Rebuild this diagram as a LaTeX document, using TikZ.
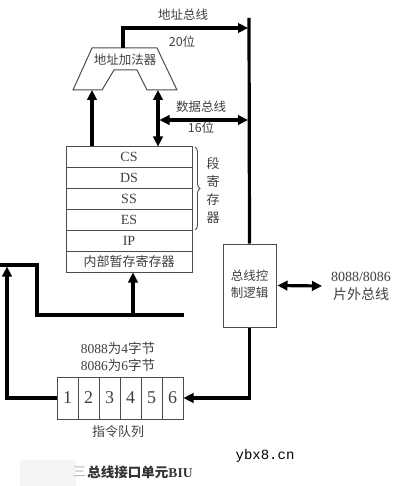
\documentclass[tikz,border=0pt]{standalone}
\usepackage{fontspec}
\setmainfont{Liberation Serif}
\newfontfamily\cjkf{Noto Sans CJK SC}
\newfontfamily\monof{Liberation Mono}
\usetikzlibrary{arrows.meta,decorations.pathreplacing}
\newcommand\zh[1]{{\cjkf #1}}
\begin{document}
\begin{tikzpicture}[x=1pt,y=-1pt,
  bus/.style={line width=3.2pt},
  tip/.style={-{Triangle[length=10pt,width=9.5pt]}},
  dtip/.style={{Triangle[length=10pt,width=9.5pt]}-{Triangle[length=10pt,width=9.5pt]}},
  thin/.style={draw=black!70,line width=1pt},
  lbl/.style={text=black!75,inner sep=0pt,font=\fontsize{12.5}{17}\selectfont\cjkf},
  reg/.style={thin,minimum width=126pt,minimum height=20.83pt,inner sep=0pt,text=black!75,font=\fontsize{14}{15}\selectfont},
  qcell/.style={thin,minimum width=21pt,minimum height=42pt,inner sep=0pt,text=black!75,font=\fontsize{18}{19}\selectfont},
]
\useasboundingbox (0,0) rectangle (412,486);
\fill[black!4] (20,460) rectangle (76,486);

% address adder
\draw[thin] (92,48) -- (157,48) -- (177,90) -- (147,90) -- (137,70) -- (114,70) -- (102,90) -- (73,90) -- cycle;
\node[lbl] (add) at (125,60) {地址加法器};
\coordinate (addT) at (123,48);
\coordinate (addL) at (92,90);
\coordinate (addR) at (158,90);

% bus line
\coordinate (bt) at (249,18);
\node[thin,minimum width=53pt,minimum height=83pt,inner sep=0pt] (bcl) at (249.5,285.5) {};
\node[lbl,align=center] (bcltxt) at (249.5,284) {总线控\\制逻辑};
\draw[bus] (bt) -- (bcl.north);

% address bus
\coordinate (ab) at (248,28);
\draw[bus,tip] (addT) -- (addT |- ab) -- (ab);
\node[lbl] (abl) at (183,15) {地址总线};
\node[lbl] (abw) at (182,42) {20\zh{位}};

% registers
\node[reg] (rcs) at (129,157.4) {CS};
\node[reg] (rds) at (129,178.3) {DS};
\node[reg] (rss) at (129,199.1) {SS};
\node[reg] (res) at (129,219.9) {ES};
\node[reg] (rip) at (129,240.8) {IP};
\node[reg,font=\fontsize{13}{15}\selectfont\cjkf] (rtmp) at (129,261.6) {内部暂存寄存器};
\draw[black!70,line width=0.9pt,decorate,decoration={brace,amplitude=5pt}] (195,147) -- (195,230);
\node[lbl,align=center,font=\fontsize{13}{18}\selectfont\cjkf] (seg) at (213,191) {段\\寄\\存\\器};

% adder arrows
\draw[bus,tip] (addL |- rcs.north) -- (addL);
\draw[bus,dtip] (addR) -- (addR |- rcs.north);
\coordinate (db0) at (159.5,120);
\coordinate (db1) at (248,120);
\draw[bus,dtip] (db0) -- (db1);
\node[lbl] (dbl) at (201,107) {数据总线};
\node[lbl] (dbw) at (201,128) {16\zh{位}};

% internal bus
\coordinate (h0) at (0,265);
\coordinate (h1) at (37,265);
\coordinate (h2) at (37,315);
\coordinate (h3) at (184,315);
\coordinate (hm) at (133,315);
\draw[bus] (h0) -- (h1) -- (h2) -- (h3);
\draw[bus,tip] (hm) -- (hm |- rtmp.south);

% queue
\node[qcell] (q1) at (67.5,398) {1};
\node[qcell] (q2) at (88.5,398) {2};
\node[qcell] (q3) at (109.5,398) {3};
\node[qcell] (q4) at (130.5,398) {4};
\node[qcell] (q5) at (151.5,398) {5};
\node[qcell] (q6) at (172.5,398) {6};
\node[lbl,font=\fontsize{13.5}{15}\selectfont] (qa) at (118,348) {8088\zh{为}4\zh{字节}};
\node[lbl,font=\fontsize{13.5}{15}\selectfont] (qb) at (118,365) {8086\zh{为}6\zh{字节}};
\node[lbl,font=\fontsize{13}{15}\selectfont\cjkf] (ql) at (118,432) {指令队列};

\coordinate (lp) at (7,398);
\coordinate (lt) at (7,266.5);
\draw[bus,tip] (q1.west) -- (lp) -- (lt);
\draw[bus,tip] (bcl.south) -- (bcl.south |- q6.east) -- (q6.east);

% external bus
\node[lbl,align=center,font=\fontsize{14}{18}\selectfont] (ext) at (361,286) {8088/8086\\\zh{片外总线}};
\draw[bus,dtip] ([xshift=1pt]bcl.east) -- (322,286);

% captions
\node[text=black!30,inner sep=0pt,font=\fontsize{13}{15}\selectfont\cjkf] (frag) at (79.5,472) {三};
\node[text=black!80,inner sep=0pt,font=\fontsize{13.5}{15}\selectfont\bfseries\cjkf] (title) at (140,472) {总线接口单元\textrm{BIU}};
\node[inner sep=0pt,font=\fontsize{14}{16}\selectfont\monof] (wm) at (265,456) {ybx8.cn};
\end{tikzpicture}
\end{document}
